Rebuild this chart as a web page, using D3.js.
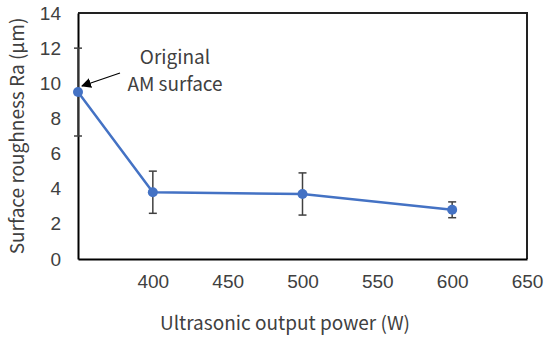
<!DOCTYPE html>
<html>
<head>
  <meta charset="UTF-8"/>
  <title>Surface roughness</title>
  <style>
    body { margin: 0; background: #fff; font-family: 'Noto Sans CJK SC', 'Noto Sans', sans-serif; }
    text { fill: #404040; }
    .tick text { font-size: 19px; }
    .labels { font-size: 19px; }
  </style>
  <script src="https://d3js.org/d3.v7.min.js"></script>
</head>
<body>
<svg width="550" height="337"></svg>
<script>
// data
var power = [350, 400, 500, 600];
var roughness = [9.5, 3.8, 3.7, 2.8];
var errors = [2.5, 1.2, 1.2, 0.45];
var xTicks = [400, 450, 500, 550, 600, 650];
var yTicks = [0, 2, 4, 6, 8, 10, 12, 14];

var svg = d3.select("svg"),
    margin = {top: 13, right: 23, bottom: 78, left: 78},
    width = +svg.attr("width") - margin.left - margin.right,
    height = +svg.attr("height") - margin.top - margin.bottom;

var x = d3.scaleLinear().domain([350, 650]).range([0, width]),
    y = d3.scaleLinear().domain([0, 14]).range([height, 0]);

var g = svg.append("g")
    .attr("transform", "translate(" + margin.left + "," + margin.top + ")");

var data = power.map(function(p, i) {
  return {x: p, y: roughness[i], e: errors[i]};
});

// frame: top and right
g.append("path")
    .attr("d", "M0,0H" + width + "V" + height)
    .attr("fill", "none")
    .attr("stroke", "#222")
    .attr("stroke-width", 2);

var xAxis = g.append("g")
    .attr("transform", "translate(0," + height + ")")
    .call(d3.axisBottom(x).tickValues(xTicks).tickSize(0).tickPadding(16));
xAxis.select(".domain").attr("stroke", "#000").attr("stroke-width", 2);

var yAxis = g.append("g")
    .call(d3.axisLeft(y).tickValues(yTicks).tickSize(0).tickPadding(17));
yAxis.select(".domain").attr("stroke", "#000").attr("stroke-width", 2);

svg.selectAll(".tick text").attr("fill", "#404040");

// error bars
var eb = g.selectAll(".err")
  .data(data)
  .enter().append("g")
    .attr("class", "err")
    .attr("stroke", "#404040")
    .attr("stroke-width", 1.5);
eb.append("line")
    .attr("x1", function(d) { return x(d.x); })
    .attr("x2", function(d) { return x(d.x); })
    .attr("y1", function(d) { return y(d.y + d.e); })
    .attr("y2", function(d) { return y(d.y - d.e); });
eb.append("line")
    .attr("x1", function(d) { return x(d.x) - 4; })
    .attr("x2", function(d) { return x(d.x) + 4; })
    .attr("y1", function(d) { return y(d.y + d.e); })
    .attr("y2", function(d) { return y(d.y + d.e); });
eb.append("line")
    .attr("x1", function(d) { return x(d.x) - 4; })
    .attr("x2", function(d) { return x(d.x) + 4; })
    .attr("y1", function(d) { return y(d.y - d.e); })
    .attr("y2", function(d) { return y(d.y - d.e); });

// line
g.append("path")
    .datum(data)
    .attr("fill", "none")
    .attr("stroke", "#4472C4")
    .attr("stroke-width", 2.5)
    .attr("d", d3.line().x(function(d) { return x(d.x); }).y(function(d) { return y(d.y); }));

g.selectAll(".dot")
  .data(data)
  .enter().append("circle")
    .attr("class", "dot")
    .attr("cx", function(d) { return x(d.x); })
    .attr("cy", function(d) { return y(d.y); })
    .attr("r", 5)
    .attr("fill", "#4472C4");

// annotation
svg.append("defs").append("marker")
    .attr("id", "arr")
    .attr("viewBox", "0 0 10 10")
    .attr("refX", 9).attr("refY", 5)
    .attr("markerWidth", 10).attr("markerHeight", 10)
    .attr("markerUnits", "userSpaceOnUse")
    .attr("orient", "auto")
  .append("path")
    .attr("d", "M0,0L10,5L0,10Z")
    .attr("fill", "#000");

svg.append("line")
    .attr("x1", 120).attr("y1", 73)
    .attr("x2", 82).attr("y2", 86)
    .attr("stroke", "#000")
    .attr("stroke-width", 1.2)
    .attr("marker-end", "url(#arr)");

svg.append("text")
    .attr("class", "labels")
    .attr("x", 175).attr("y", 64)
    .attr("text-anchor", "middle")
    .text("Original");
svg.append("text")
    .attr("class", "labels")
    .attr("x", 175).attr("y", 91)
    .attr("text-anchor", "middle")
    .text("AM surface");

// axis titles
svg.append("text")
    .attr("class", "labels")
    .attr("transform", "translate(24," + (margin.top + height / 2) + ") rotate(-90)")
    .attr("text-anchor", "middle")
    .text("Surface roughness Ra (μm)");

svg.append("text")
    .attr("class", "labels")
    .attr("x", 285).attr("y", 330)
    .attr("text-anchor", "middle")
    .text("Ultrasonic output power (W)");
</script>
</body>
</html>
